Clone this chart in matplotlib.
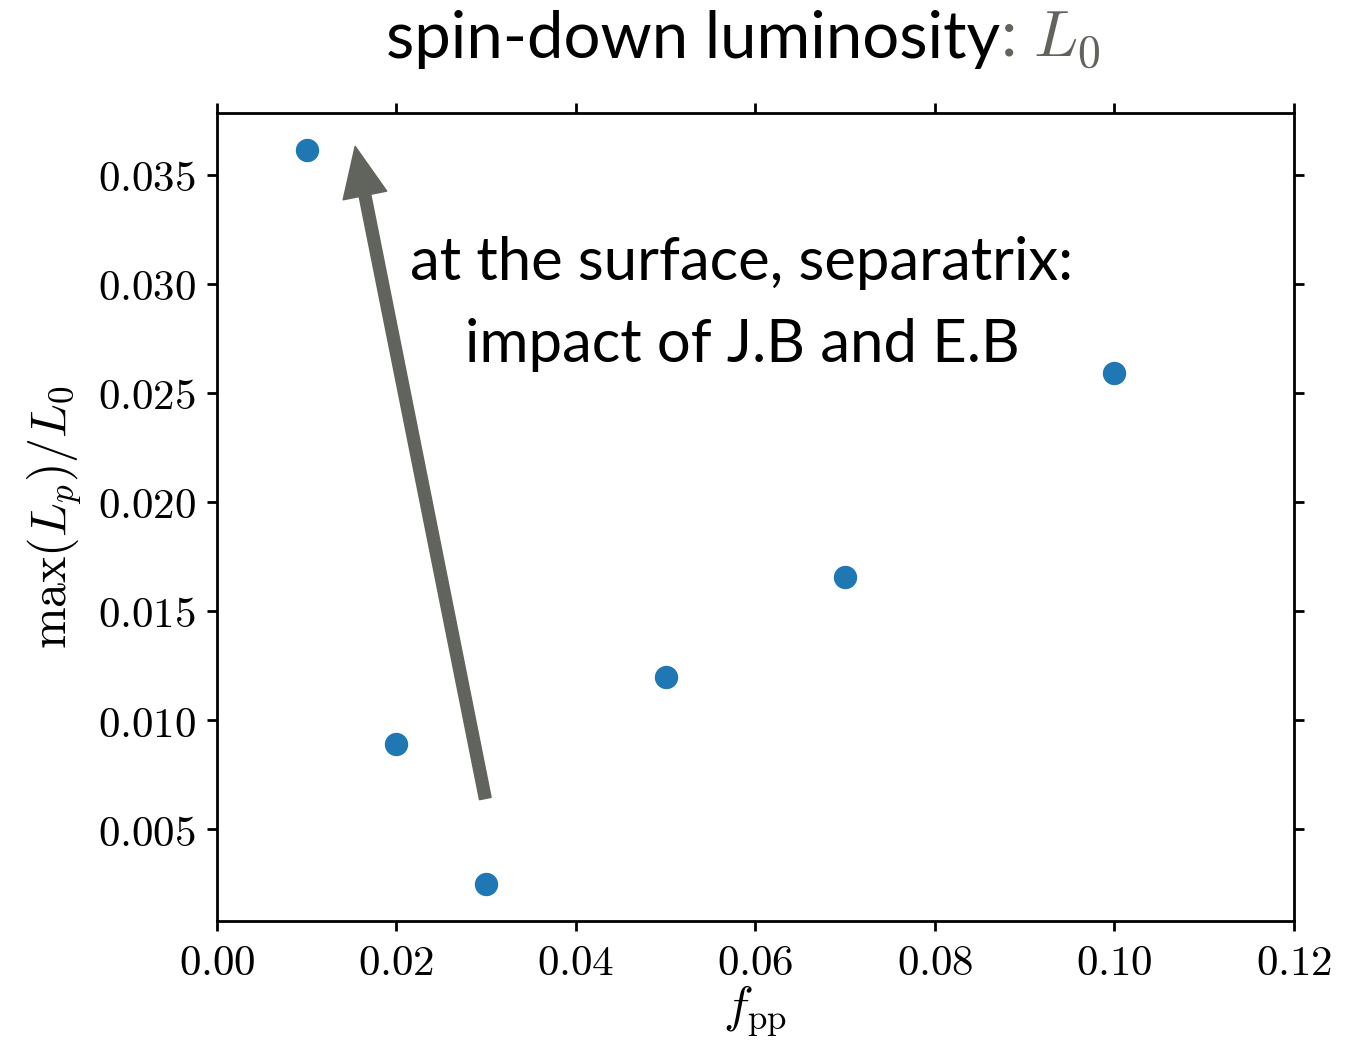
import matplotlib
matplotlib.use("Agg")
import matplotlib.pyplot as plt
from matplotlib.ticker import FuncFormatter

plt.rcParams['mathtext.fontset'] = 'cm'

# data
f_pp = [0.01, 0.02, 0.03, 0.05, 0.07, 0.10]
max_lp = [0.03615, 0.00891, 0.00247, 0.01199, 0.01655, 0.02593]

xticks = [0.00, 0.02, 0.04, 0.06, 0.08, 0.10, 0.12]
yticks = [0.005, 0.010, 0.015, 0.020, 0.025, 0.030, 0.035]

arrow_tail = (0.0299, 0.0064)
arrow_head = (0.0154, 0.0363)

note = "at the surface, separatrix:\nimpact of J.B and E.B"
gray = '#61635d'

fig = plt.figure(figsize=(13.5, 10.45), dpi=100)
ax = fig.add_axes([0.1607, 0.1187, 0.7978, 0.7732])

ax.scatter(f_pp, max_lp, s=250, color='#1f77b4', zorder=3)

ax.annotate('', xy=arrow_head, xytext=arrow_tail,
            arrowprops=dict(facecolor=gray, edgecolor=gray, width=8.5,
                            headwidth=32, headlength=36, shrink=0))

ax.text(0.0585, 0.02906, note, ha='center', va='center', fontsize=43,
        family='Lato', linespacing=1.63)

ax.set_xlim(0, 0.12)
ax.set_xticks(xticks)
ax.set_yticks(yticks)
ax.xaxis.set_major_formatter(FuncFormatter(lambda v, p: '$%.2f$' % v))
ax.yaxis.set_major_formatter(FuncFormatter(lambda v, p: '$%.3f$' % v))
ax.tick_params(direction='out', length=7, width=2, labelsize=31,
               top=True, right=True, pad=8)
for sp in ax.spines.values():
    sp.set_linewidth(2)

ax.set_xlabel(r'$f_{\rm pp}$', fontsize=36, labelpad=0)
ax.set_ylabel(r'$\max(L_p)/L_0$', fontsize=36, labelpad=10)

# title: black words, gray ": L_0"
t1 = fig.text(0.5, 0.962, 'spin-down luminosity', ha='left', va='center',
              fontsize=47, family='Lato', color='black')
fig.canvas.draw()
r = fig.canvas.get_renderer()
bb = t1.get_window_extent(r)
t2 = fig.text(0, 0.962, r': $L_0$', ha='left', va='center', fontsize=47,
              family='Lato', color=gray)
bb2 = t2.get_window_extent(r)
total = bb.width + bb2.width
x0 = (743 - total / 2) / fig.bbox.width
t1.set_x(x0)
t2.set_x(x0 + bb.width / fig.bbox.width)

fig.savefig('out.png', dpi=100)
